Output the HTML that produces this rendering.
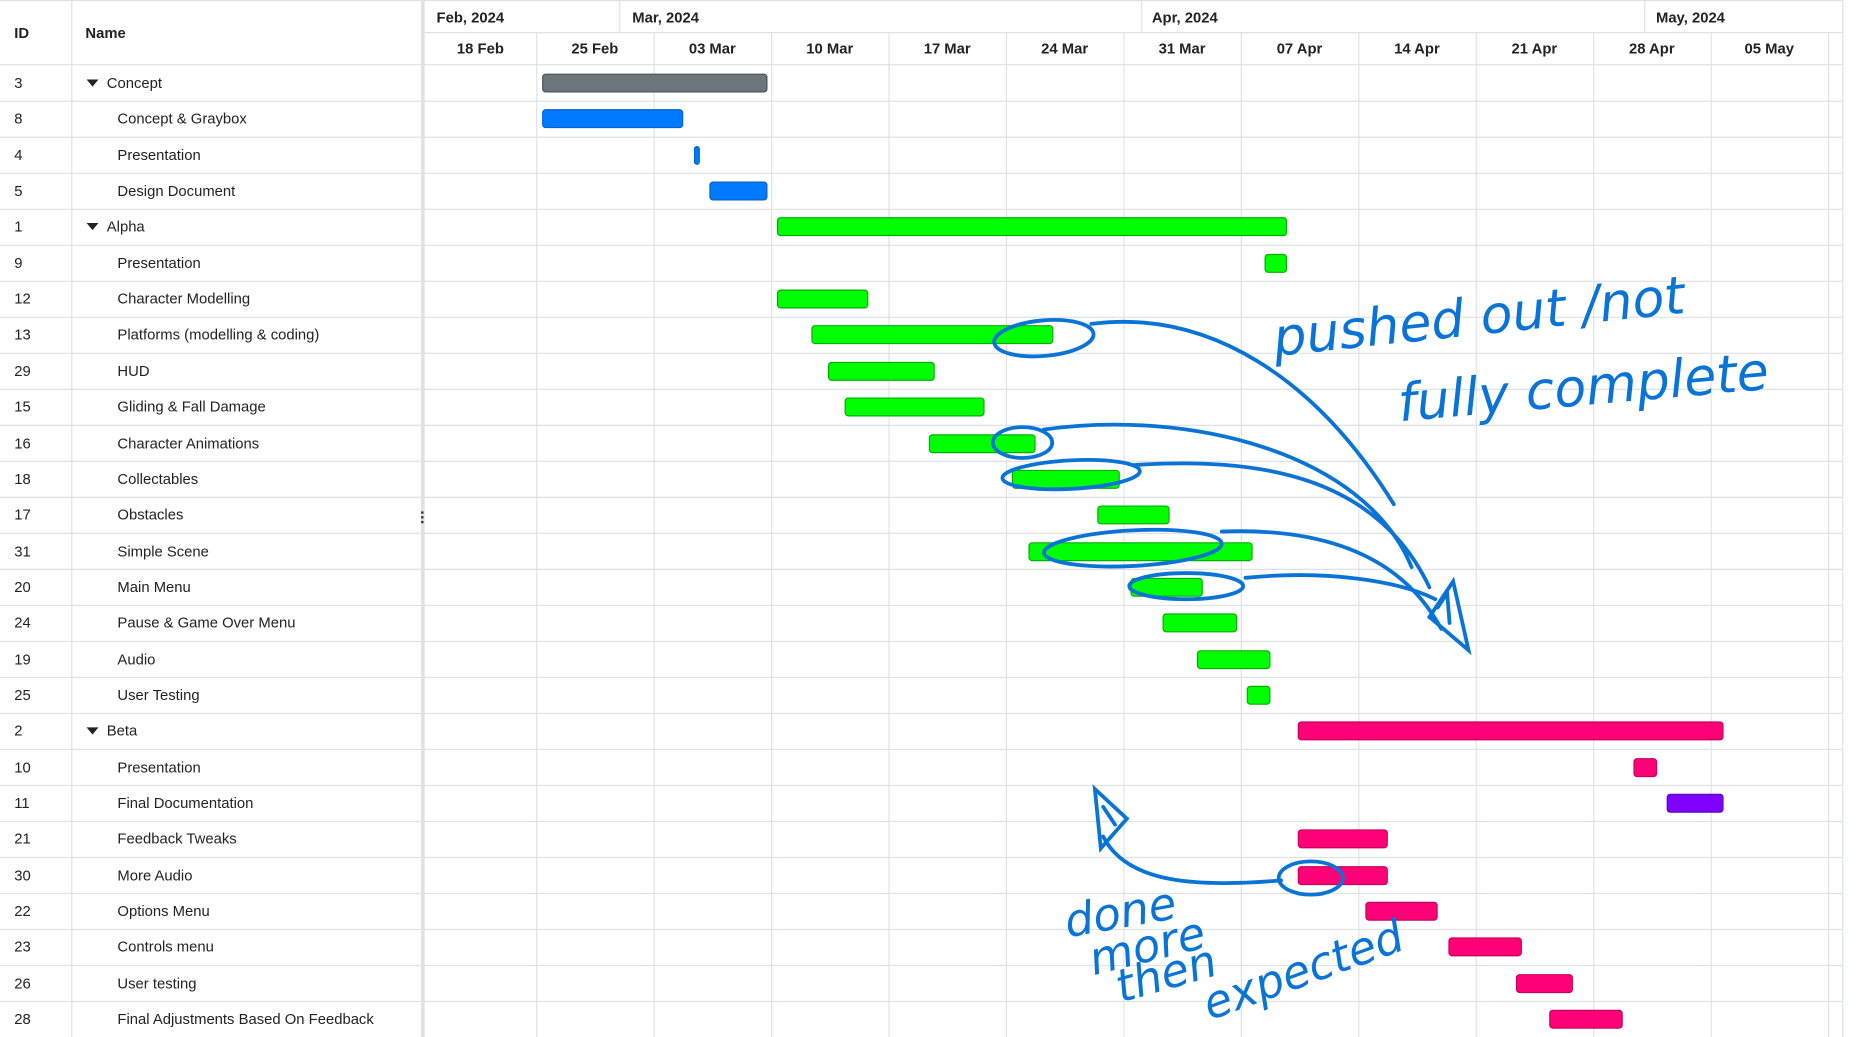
<!DOCTYPE html>
<html><head><meta charset="utf-8"><style>
html,body{margin:0;padding:0;background:#fff;overflow:hidden;width:1860px;height:1036px}
#w{position:absolute;left:0;top:0;width:1568px;height:874px;transform:scale(1.18622,1.1865);transform-origin:0 0;font-family:"Liberation Sans",sans-serif;color:#222}
.a{position:absolute}
.hd{font-weight:bold;font-size:12.5px}
.c{font-size:12.5px}
.bar{position:absolute;height:16px;border-radius:3px;box-sizing:border-box}
</style></head><body><div id="w">
<svg class="a" style="left:0;top:0" width="1568" height="874">
<g stroke="#dee2e6" stroke-width="1" fill="none" id="grid"></g>
</svg>
<div id="t"></div>
</div>
<script>
var W=document.getElementById('w'),T=document.getElementById('t');
var rows=[["3","Concept",1],["8","Concept & Graybox"],["4","Presentation"],["5","Design Document"],["1","Alpha",1],["9","Presentation"],["12","Character Modelling"],["13","Platforms (modelling & coding)"],["29","HUD"],["15","Gliding & Fall Damage"],["16","Character Animations"],["18","Collectables"],["17","Obstacles"],["31","Simple Scene"],["20","Main Menu"],["24","Pause & Game Over Menu"],["19","Audio"],["25","User Testing"],["2","Beta",1],["10","Presentation"],["11","Final Documentation"],["21","Feedback Tweaks"],["30","More Audio"],["22","Options Menu"],["23","Controls menu"],["26","User testing"],["28","Final Adjustments Based On Feedback"]];
var G="#6c757d|#4b5259",B="#007bff|#0062cc",Gr="#00ff00|#00b000",P="#ff0077|#c8005c",Pu="#8000ff|#6200c4";
var bars=[[457,647,G],[457,576,B],[585,590,B],[598,647,B],[655,1085,Gr],[1066,1085,Gr],[655,732,Gr],[684,888,Gr],[698,788,Gr],[712,830,Gr],[783,873,Gr],[853,944,Gr],[925,986,Gr],[867,1056,Gr],[953,1014,Gr],[980,1043,Gr],[1009,1071,Gr],[1051,1071,Gr],[1094,1453,P],[1377,1397,P],[1405,1453,Pu],[1094,1170,P],[1094,1170,P],[1151,1212,P],[1221,1283,P],[1278,1326,P],[1306,1368,P]];
var h='',g='';
function ln(x1,y1,x2,y2,c,w){g+='<line x1="'+x1+'" y1="'+y1+'" x2="'+x2+'" y2="'+y2+'" stroke="'+(c||'#dee2e6')+'" stroke-width="'+(w||1)+'"/>';}
var RH=30.35,R0=55;
ln(0,0.5,1553,0.5);ln(0,54.5,1553,54.5);ln(358,27.5,1553,27.5);
ln(60.5,0,60.5,874);ln(356.5,0,356.5,874,'#dee2e6',3);
[522,962,1386].forEach(function(x){ln(x+.5,0,x+.5,27)});
var wk=["18 Feb","25 Feb","03 Mar","10 Mar","17 Mar","24 Mar","31 Mar","07 Apr","14 Apr","21 Apr","28 Apr","05 May"];
for(var i=0;i<=12;i++){var x=i==0?358:452+(i-1)*99;var nx=452+i*99;if(i>0)ln(x+.5,27,x+.5,874);if(i<12)h+='<div class="a hd" style="left:'+x+'px;top:34px;width:'+(nx-x)+'px;text-align:center">'+wk[i]+'</div>';}
ln(1553.5,0,1553.5,874);
h+='<div class="a hd" style="left:368px;top:8px">Feb, 2024</div><div class="a hd" style="left:533px;top:8px">Mar, 2024</div><div class="a hd" style="left:971px;top:8px">Apr, 2024</div><div class="a hd" style="left:1396px;top:8px">May, 2024</div>';
h+='<div class="a hd" style="left:12px;top:21px">ID</div><div class="a hd" style="left:72px;top:21px">Name</div>';
for(var r=0;r<rows.length;r++){var y=R0+r*RH;ln(0,y+RH,1553,y+RH);
h+='<div class="a c" style="left:12px;top:'+(y+8)+'px">'+rows[r][0]+'</div>';
var nm=rows[r][1].replace(/&/g,'&amp;');
if(rows[r][2])h+='<div class="a" style="left:73px;top:'+(y+12)+'px;width:0;height:0;border-left:5px solid transparent;border-right:5px solid transparent;border-top:6px solid #222"></div><div class="a c" style="left:90px;top:'+(y+8)+'px">'+nm+'</div>';
else h+='<div class="a c" style="left:99px;top:'+(y+8)+'px">'+nm+'</div>';
var b=bars[r],cc=b[2].split('|');
h+='<div class="bar" style="left:'+b[0]+'px;top:'+(y+7)+'px;width:'+(b[1]-b[0])+'px;background:'+cc[0]+';border:1px solid '+cc[1]+'"></div>';}
h+='<div class="a" style="left:355px;top:431px;width:2px;height:2px;background:#333;box-shadow:0 4px #333,0 8px #333"></div>';
document.getElementById('grid').innerHTML=g;
var s='<svg class="a" style="left:0;top:0" width="1568" height="874"><g fill="none" stroke="#0a74d6" stroke-width="3.2" stroke-linecap="round">';
s+='<ellipse cx="880" cy="285" rx="42" ry="15" transform="rotate(-5 880 285)"/>';
s+='<path d="M920 273 C1020 260 1110 320 1175 425"/>';
s+='<ellipse cx="862" cy="373" rx="25" ry="13"/>';
s+='<path d="M880 362 C1000 345 1150 380 1190 478"/>';
s+='<ellipse cx="903" cy="400" rx="58" ry="12" transform="rotate(-3 903 400)"/>';
s+='<path d="M955 392 C1060 385 1160 400 1205 495"/>';
s+='<ellipse cx="955" cy="462" rx="75" ry="15" transform="rotate(-3 955 462)"/>';
s+='<path d="M1030 448 C1110 445 1180 465 1215 530"/>';
s+='<ellipse cx="1000" cy="494" rx="48" ry="11"/>';
s+='<path d="M1050 487 C1120 480 1180 490 1210 505"/>';
s+='<path d="M1225 490 L1205 520 L1238 548 Z M1212 512 L1220 500 L1222 525"/>';
s+='<ellipse cx="1105" cy="740" rx="27" ry="14"/>';
s+='<path d="M1080 742 C1010 748 950 745 930 705"/>';
s+='<path d="M923 665 L928 715 L950 690 Z M930 680 L940 695"/>';
s+='</g><g fill="#0a74d6" font-family="DejaVu Sans,sans-serif" font-style="oblique" font-size="44">';
s+='<text x="1075" y="300" transform="rotate(-6 1075 300)">pushed out /not</text>';
s+='<text x="1180" y="355" transform="rotate(-5 1180 355)">fully complete</text>';
s+='<text x="900" y="790" font-size="38" transform="rotate(-10 900 790)">done</text>';
s+='<text x="922" y="822" font-size="38" transform="rotate(-14 922 822)">more</text>';
s+='<text x="945" y="845" font-size="38" transform="rotate(-16 945 845)">then</text>';
s+='<text x="1020" y="860" font-size="38" transform="rotate(-20 1020 860)">expected</text>';
s+='</g></svg>';
T.innerHTML=h+s;
</script>
</body></html>
